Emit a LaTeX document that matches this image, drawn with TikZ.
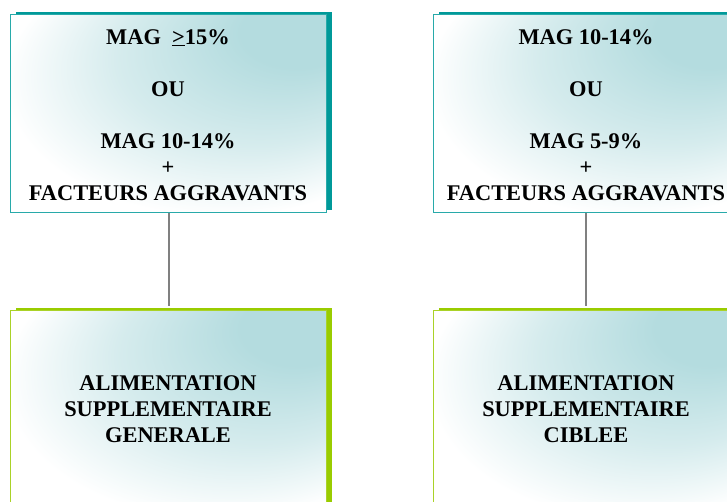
\documentclass[tikz,border=0pt]{standalone}
\usepackage{fontspec}
\setmainfont{Liberation Serif}
\usetikzlibrary{shadows}
\definecolor{tealbar}{RGB}{0,153,153}
\definecolor{tealline}{RGB}{40,170,170}
\definecolor{greenbar}{RGB}{153,204,0}
\definecolor{greenline}{RGB}{170,210,40}
\definecolor{shadetop}{RGB}{180,220,223}
\definecolor{connline}{RGB}{128,128,128}
% light teal glow spreading from the upper right corner, white elsewhere
\pgfdeclareradialshading{panelshade}{\pgfpoint{25bp}{25bp}}{
  color(0bp)=(shadetop); color(9bp)=(shadetop);
  color(22bp)=(shadetop!55!white); color(34bp)=(white); color(50bp)=(white)}
\tikzset{
  panel/.style={rectangle, anchor=north west, inner sep=0pt, line width=1pt,
    minimum width=#1, shading=panelshade},
  condbox/.style={panel=#1, draw=tealline, minimum height=198pt,
    general shadow={shadow xshift=5pt, shadow yshift=3pt, fill=tealbar}},
  actbox/.style={panel=#1, draw=greenline, minimum height=205pt,
    general shadow={shadow xshift=5pt, shadow yshift=3pt, fill=greenbar}},
  label/.style={anchor=north, inner sep=0pt, align=center, text=black,
    font=\fontsize{22.4}{26}\selectfont\bfseries},
  conn/.style={draw=connline, line width=2pt, shorten >=4pt}
}
\begin{document}
\begin{tikzpicture}[x=1pt, y=-1pt]
  \useasboundingbox (0,0) rectangle (727,501);
  \clip (0,0) rectangle (727,501);

  % condition boxes
  \node[condbox=316pt] (c1) at (10,14) {};
  \node[condbox=304pt] (c2) at (433,14) {};
  % action boxes
  \node[actbox=316pt] (a1) at (10,310) {};
  \node[actbox=304pt] (a2) at (433,310) {};

  % connectors
  \draw[conn] (c1.south) -- (a1.north);
  \draw[conn] (c2.south) -- (a2.north);

  % texts
  \node[label] (t1) at (168,29)
    {MAG\ \ \underline{>}15\%\\[26pt] OU\\[26pt] MAG 10-14\%\\ +\\ FACTEURS AGGRAVANTS};
  \node[label] (t2) at (586,29)
    {MAG 10-14\%\\[26pt] OU\\[26pt] MAG 5-9\%\\ +\\ FACTEURS AGGRAVANTS};
  \node[label] (t3) at (168,375)
    {ALIMENTATION\\ SUPPLEMENTAIRE\\ GENERALE};
  \node[label] (t4) at (586,375)
    {ALIMENTATION\\ SUPPLEMENTAIRE\\ CIBLEE};
\end{tikzpicture}
\end{document}
